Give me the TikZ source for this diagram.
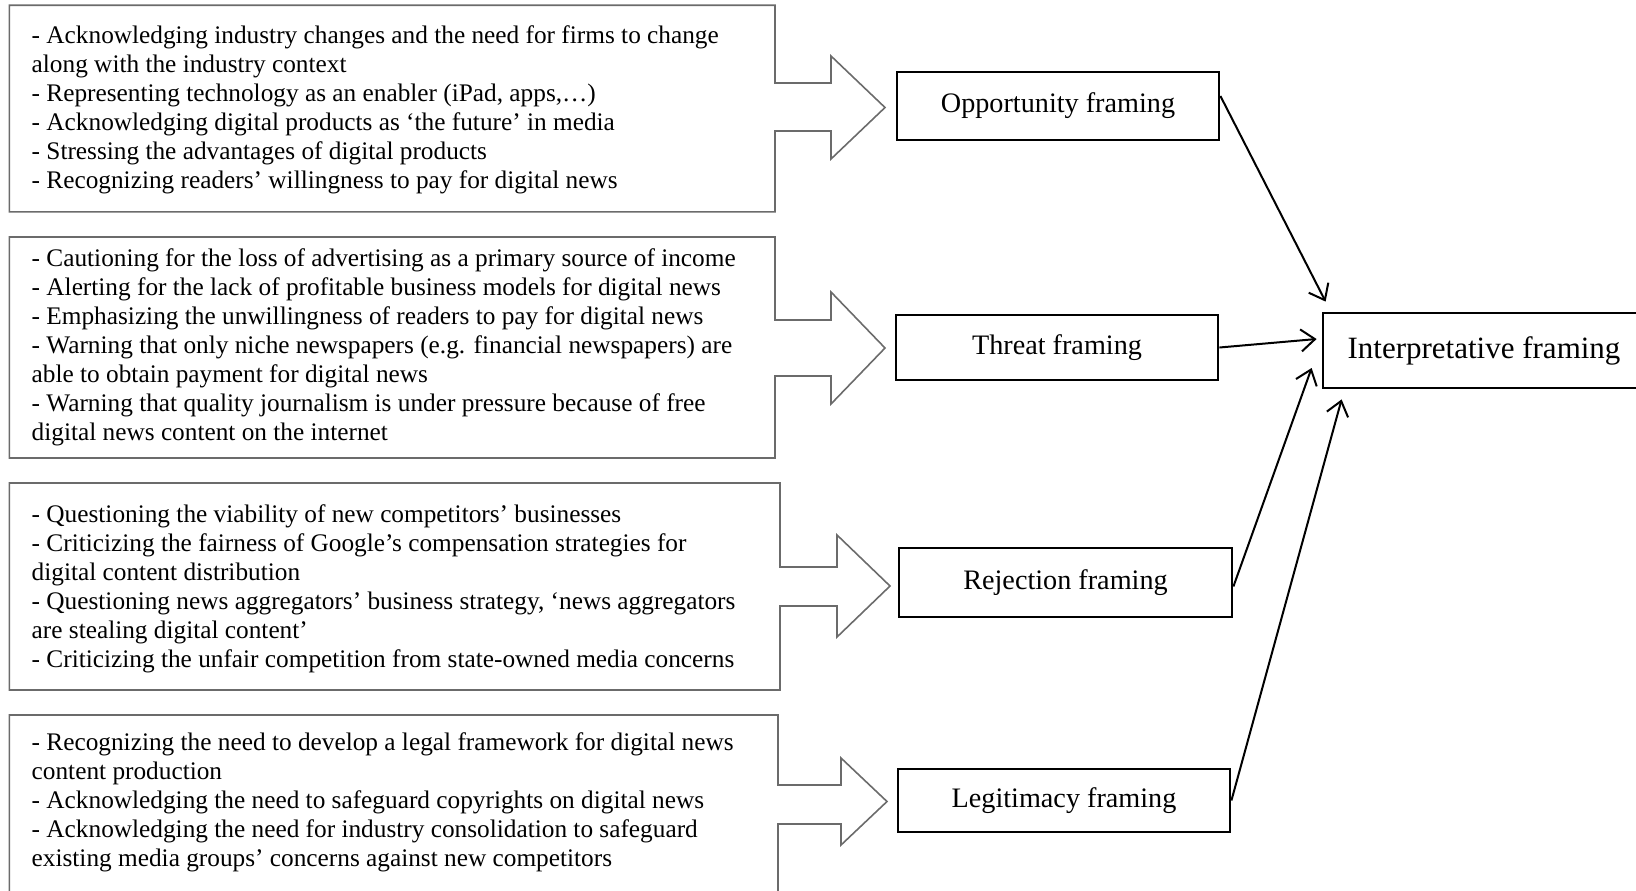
\documentclass[tikz,border=0pt]{standalone}
\usepackage{fontspec}
\setmainfont{Liberation Serif}
\usetikzlibrary{arrows.meta}
\definecolor{boxgray}{gray}{0.42}
\begin{document}
\begin{tikzpicture}[x=0.5pt,y=-0.5pt,
  srcbox/.style={draw=boxgray, line width=0.8pt, line join=miter},
  txt/.style={anchor=north west, align=left, inner sep=0pt, font=\fontsize{12.65}{14.5}\selectfont},
  fbox/.style={draw=black, line width=1.4pt, inner sep=0pt, font=\fontsize{14.1}{16}\selectfont},
  link/.style={-{Straight Barb[length=7pt,width=11pt,line width=1pt]}, line width=1pt}]
\useasboundingbox (0,0) rectangle (1636,890);

% source boxes with block arrows
\draw[srcbox] (9.4,5.2) -- (775,5.2) -- (775,83) -- (831,83) -- (831,56) -- (885,107.5) -- (831,159) -- (831,131) -- (775,131) -- (775,211.8) -- (9.4,211.8) -- cycle;
\draw[srcbox] (9.4,237) -- (775,237) -- (775,320) -- (831,320) -- (831,292) -- (885,348) -- (831,404) -- (831,376) -- (775,376) -- (775,458) -- (9.4,458) -- cycle;
\draw[srcbox] (9.4,483) -- (780,483) -- (780,567) -- (837,567) -- (837,535) -- (890,586) -- (837,637) -- (837,606) -- (780,606) -- (780,690) -- (9.4,690) -- cycle;
\draw[srcbox] (9.4,905) -- (9.4,715) -- (778,715) -- (778,785) -- (841,785) -- (841,758) -- (887,801.5) -- (841,845) -- (841,824) -- (778,824) -- (778,905);

\node[txt] (t1) at (31.3,23) {\strut- Acknowledging industry changes and the need for firms to change\\along with the industry context\\- Representing technology as an enabler (iPad, apps,…)\\- Acknowledging digital products as ‘the future’ in media\\- Stressing the advantages of digital products\\- Recognizing readers’ willingness to pay for digital news};
\node[txt] (t2) at (31.3,245.3) {\strut- Cautioning for the loss of advertising as a primary source of income\\- Alerting for the lack of profitable business models for digital news\\- Emphasizing the unwillingness of readers to pay for digital news\\- Warning that only niche newspapers (e.g. financial newspapers) are\\able to obtain payment for digital news\\- Warning that quality journalism is under pressure because of free\\digital news content on the internet};
\node[txt] (t3) at (31.3,502) {\strut- Questioning the viability of new competitors’ businesses\\- Criticizing the fairness of Google’s compensation strategies for\\digital content distribution\\- Questioning news aggregators’ business strategy, ‘news aggregators\\are stealing digital content’\\- Criticizing the unfair competition from state-owned media concerns};
\node[txt] (t4) at (31.3,729.4) {\strut- Recognizing the need to develop a legal framework for digital news\\content production\\- Acknowledging the need to safeguard copyrights on digital news\\- Acknowledging the need for industry consolidation to safeguard\\existing media groups’ concerns against new competitors};

% framing boxes
\node[fbox, minimum width=161pt, minimum height=34pt] (opp) at (1058,106) {Opportunity framing};
\node[fbox, minimum width=161pt, minimum height=32.5pt] (thr) at (1057,347.5) {Threat framing};
\node[fbox, minimum width=166.5pt, minimum height=34.5pt] (rej) at (1065.5,582.5) {Rejection framing};
\node[fbox, minimum width=166pt, minimum height=31.5pt] (leg) at (1064,800.5) {Legitimacy framing};
\node[fbox, minimum width=157pt, minimum height=37.5pt, font=\fontsize{15.5}{18}\selectfont] (int) at (1480,350.5) {\hspace*{4pt}Interpretative framing};

% connectors
\draw[link] ([yshift=5pt]opp.east) -- ([xshift=2pt,yshift=5pt]int.north west);
\draw[link] (thr.east) -- ([xshift=-2.5pt,yshift=5.75pt]int.west);
\draw[link] ([yshift=-2pt]rej.east) -- ([xshift=-5pt,yshift=-8.75pt]int.west);
\draw[link] (leg.east) -- ([xshift=10pt,yshift=-5pt]int.south west);
\end{tikzpicture}
\end{document}
